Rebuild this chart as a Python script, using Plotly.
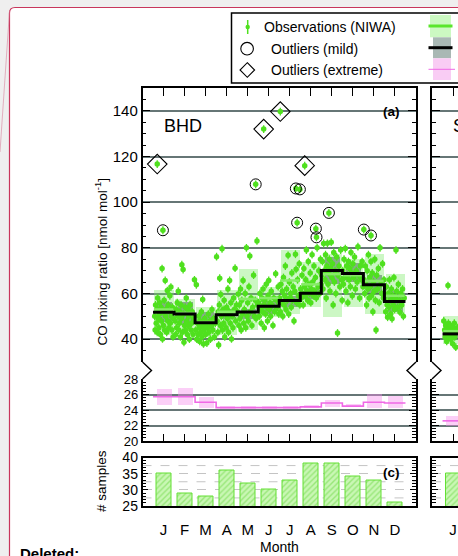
import plotly.graph_objects as go

W, H = 458, 556

months = [1, 2, 3, 4, 5, 6, 7, 8, 9, 10, 11, 12]
month_labels = ["J", "F", "M", "A", "M", "J", "J", "A", "S", "O", "N", "D"]

# ---- panel (a): BHD monthly statistics [nmol/mol] ----
bhd_median = [51.8, 51.0, 47.2, 50.7, 51.9, 54.4, 56.9, 60.1, 70.1, 68.8, 63.8, 56.5]
bhd_mean = [53.0, 51.5, 47.5, 52.0, 57.6, 58.0, 65.7, 64.0, 68.5, 68.0, 65.5, 59.0]
bhd_range_lo = [42.0, 44.2, 41.0, 41.8, 44.0, 49.6, 51.2, 54.0, 49.6, 54.0, 51.0, 51.0]
bhd_range_hi = [61.6, 57.7, 54.3, 61.6, 70.9, 62.9, 78.9, 73.8, 77.4, 75.2, 77.4, 68.7]
bhd_iqr_lo = [47.4, 46.0, 44.5, 48.9, 49.0, 51.0, 54.0, 57.8, 64.3, 65.0, 60.0, 51.8]
bhd_iqr_hi = [56.2, 56.2, 51.8, 53.3, 53.4, 56.6, 59.0, 62.2, 76.0, 73.2, 68.0, 61.3]

# ---- panel (b) ----
pink_median = [25.7, 25.7, 25.0, 24.3, 24.3, 24.3, 24.3, 24.4, 24.9, 24.5, 25.0, 24.9]
pink_lo = [24.6, 24.6, 24.2, 24.15, 24.15, 24.15, 24.15, 24.3, 24.4, 24.35, 24.2, 24.2]
pink_hi = [26.7, 26.8, 25.7, 24.5, 24.5, 24.5, 24.5, 24.6, 25.3, 24.8, 26.1, 25.8]

# ---- panel (c): number of samples ----
bhd_samples = [35, 29, 28, 36, 32, 30, 33, 38, 38, 34, 33, 26]
samples_ticks = [25, 30, 35, 40]
samples_dashed = [27.5, 32.5, 37.5]

# ---- observations (decimal month, value) ----
obs_jan = [(0.58, 50), (0.60, 44), (0.62, 55), (0.65, 47), (0.68, 53), (0.70, 43), (0.72, 58), (0.75, 49),
           (0.78, 45), (0.80, 51), (0.82, 56), (0.85, 42), (0.88, 54), (0.90, 48), (0.93, 70.9), (0.95, 40.1),
           (0.97, 52), (1.00, 46), (1.03, 57), (1.05, 44), (1.08, 65.7), (1.10, 50), (1.12, 53), (1.15, 43),
           (1.18, 61.3), (1.20, 48), (1.22, 55), (1.25, 45), (1.28, 52), (1.30, 59), (1.32, 47), (1.35, 62.8),
           (1.38, 50), (1.40, 44), (1.42, 54), (1.45, 41), (1.47, 49)]
obs_feb = [(1.55, 48), (1.58, 42), (1.60, 53), (1.62, 45), (1.65, 56), (1.68, 50), (1.70, 61), (1.72, 44),
           (1.75, 47), (1.78, 52), (1.80, 41), (1.83, 55), (1.85, 49), (1.87, 72.6), (1.90, 43), (1.93, 70.5),
           (1.95, 51), (1.97, 38.6), (2.00, 46), (2.03, 54), (2.05, 44), (2.08, 58), (2.10, 48), (2.13, 42),
           (2.15, 53), (2.18, 46), (2.20, 50), (2.23, 40), (2.26, 55), (2.30, 44), (2.33, 47), (2.36, 52),
           (2.40, 42), (2.43, 49), (2.47, 66)]
obs_mar = [(2.53, 44), (2.56, 63.8), (2.58, 40), (2.61, 47), (2.64, 42), (2.67, 50), (2.70, 45), (2.72, 39),
           (2.75, 48), (2.78, 43), (2.80, 52), (2.83, 41), (2.86, 57.4), (2.88, 46), (2.90, 37.9), (2.93, 44),
           (2.96, 49), (3.00, 42), (3.03, 47), (3.06, 38.3), (3.10, 45), (3.13, 51), (3.16, 43), (3.20, 48),
           (3.23, 40), (3.27, 46), (3.30, 53), (3.34, 44), (3.38, 49), (3.42, 41), (3.46, 47)]
obs_apr = [(3.52, 76.1), (3.55, 48), (3.58, 43), (3.60, 52), (3.62, 37.4), (3.65, 55), (3.67, 66.7), (3.70, 46),
           (3.72, 59.6), (3.75, 50), (3.78, 79.6), (3.80, 44), (3.83, 53), (3.86, 47), (3.88, 57), (3.91, 41),
           (3.94, 51), (3.97, 45), (4.00, 54), (4.03, 49), (4.06, 62), (4.09, 43), (4.12, 52), (4.14, 65.7),
           (4.17, 47), (4.20, 56), (4.23, 40.1), (4.26, 50), (4.30, 45), (4.33, 58), (4.36, 53), (4.40, 71.1),
           (4.43, 48), (4.47, 55)]
obs_may = [(4.52, 52), (4.55, 59.8), (4.58, 46), (4.60, 55), (4.63, 49), (4.66, 62), (4.69, 44), (4.72, 57),
           (4.75, 51), (4.78, 65.7), (4.81, 47), (4.84, 53), (4.88, 60), (4.91, 45), (4.94, 80), (4.97, 50),
           (5.00, 56), (5.03, 48), (5.06, 63), (5.10, 76.4), (5.13, 52), (5.16, 58), (5.20, 46), (5.24, 54),
           (5.28, 68), (5.32, 50), (5.36, 57), (5.40, 49), (5.44, 83), (5.47, 55)]
obs_jun = [(5.52, 56), (5.55, 50), (5.58, 60), (5.61, 53), (5.64, 47), (5.67, 58), (5.70, 52), (5.73, 62),
           (5.76, 55), (5.79, 45), (5.82, 57), (5.85, 51), (5.88, 64), (5.91, 54), (5.94, 48), (5.97, 59),
           (6.00, 65.7), (6.03, 53), (6.06, 56), (6.09, 50), (6.12, 61), (6.16, 55), (6.20, 46), (6.24, 58),
           (6.28, 52), (6.33, 68.6), (6.37, 57), (6.41, 54), (6.45, 63), (6.48, 51)]
obs_jul = [(6.52, 58), (6.55, 52), (6.58, 64), (6.61, 56), (6.64, 61), (6.67, 50), (6.70, 67), (6.73, 55),
           (6.76, 59), (6.79, 72), (6.82, 53), (6.85, 62), (6.88, 57), (6.92, 76.7), (6.95, 51), (6.98, 65),
           (7.01, 58), (7.04, 60), (7.07, 54), (7.10, 69), (7.13, 57), (7.16, 63), (7.20, 48), (7.24, 61),
           (7.27, 77.2), (7.30, 70.6), (7.33, 56), (7.37, 66), (7.41, 59), (7.45, 73), (7.48, 55)]
obs_aug = [(7.52, 62), (7.55, 58), (7.58, 68), (7.61, 60), (7.64, 55), (7.67, 71), (7.70, 63), (7.73, 59),
           (7.76, 66), (7.79, 79), (7.82, 61), (7.85, 57), (7.88, 74), (7.91, 64), (7.94, 60), (7.97, 69),
           (8.00, 56), (8.03, 62), (8.06, 77), (8.09, 65), (8.12, 59), (8.15, 72), (8.18, 61), (8.22, 67),
           (8.26, 58), (8.30, 80), (8.34, 63), (8.38, 70), (8.42, 60), (8.46, 75), (8.49, 64)]
obs_sep = [(8.52, 68), (8.55, 74), (8.58, 62), (8.61, 81.9), (8.64, 70), (8.67, 66), (8.70, 77), (8.73, 58),
           (8.76, 72), (8.79, 82), (8.82, 64), (8.85, 69), (8.88, 75), (8.91, 61), (8.94, 71), (8.97, 82.5),
           (9.00, 67), (9.03, 73), (9.06, 55), (9.09, 78), (9.12, 65), (9.15, 70), (9.19, 60), (9.23, 76),
           (9.27, 42.7), (9.30, 68), (9.34, 72), (9.38, 63), (9.42, 79), (9.46, 66), (9.49, 57)]
obs_oct = [(9.52, 70), (9.55, 64), (9.58, 75), (9.61, 67), (9.64, 79.7), (9.67, 61), (9.70, 72), (9.73, 68),
           (9.76, 56), (9.79, 74), (9.82, 66), (9.85, 71), (9.88, 63), (9.91, 78), (9.94, 69), (9.97, 59),
           (10.00, 73), (10.04, 67), (10.08, 76), (10.12, 62), (10.16, 70), (10.20, 65), (10.24, 80.5),
           (10.28, 68), (10.32, 58), (10.36, 72), (10.40, 66), (10.44, 74), (10.48, 63)]
obs_nov = [(10.53, 66), (10.56, 60), (10.59, 72), (10.62, 64), (10.65, 55), (10.68, 70), (10.71, 62), (10.74, 77),
           (10.77, 58), (10.80, 67), (10.83, 63), (10.86, 74), (10.89, 59), (10.92, 69), (10.95, 52), (10.98, 65),
           (11.01, 61), (11.04, 75), (11.07, 57), (11.10, 44), (11.13, 68), (11.17, 62), (11.21, 71), (11.25, 56),
           (11.29, 80), (11.33, 64), (11.37, 60), (11.41, 73), (11.45, 58), (11.48, 66)]
obs_dec = [(11.53, 58), (11.56, 52), (11.59, 63), (11.62, 55), (11.65, 49.6), (11.68, 60), (11.71, 54),
           (11.74, 66), (11.77, 57), (11.80, 51), (11.83, 62), (11.86, 48.9), (11.89, 59), (11.92, 55),
           (11.95, 67), (11.98, 53), (12.02, 58), (12.05, 79), (12.08, 61), (12.12, 54), (12.16, 64), (12.20, 57),
           (12.24, 51.8), (12.28, 60), (12.32, 55), (12.36, 62), (12.40, 50), (12.44, 58)]

outliers_mild = [(0.97, 87.7), (5.38, 107.8), (7.29, 106.0), (7.48, 105.6), (7.35, 91.0), (8.24, 88.4),
                 (8.27, 84.6), (8.86, 95.3), (10.52, 88.0), (10.86, 85.4)]
outliers_extreme = [(0.70, 116.7), (5.76, 132.0), (6.55, 139.7), (7.71, 116.0)]

# ---- second station (only January visible at the right edge) ----
st2_months = [1]
st2_median = [42.3]
st2_mean = [43.5]
st2_range_lo = [38.0]
st2_range_hi = [50.3]
st2_iqr_lo = [40.0]
st2_iqr_hi = [45.0]
st2_pink_median = [22.6]
st2_pink_lo = [22.0]
st2_pink_hi = [23.2]
st2_samples = [35]
st2_obs = [(0.56, 48), (0.60, 44), (0.62, 41), (0.65, 46), (0.68, 43), (0.70, 39), (0.72, 45), (0.74, 42),
           (0.76, 63.5), (0.78, 47), (0.80, 44), (0.82, 41), (0.85, 43), (0.88, 46), (0.90, 40), (0.92, 44),
           (0.95, 42), (0.98, 38), (1.00, 45), (1.03, 43), (1.06, 47), (1.08, 41), (1.10, 44), (1.13, 36.5),
           (1.16, 43), (1.20, 45)]

# ---------------------------------------------------------------
FONT = "Liberation Sans, Arial, Helvetica, sans-serif"
GREEN = "#4fe01e"
LIGHTBOX = "rgba(120,235,100,0.38)"
GRAYBOX = "rgba(40,70,60,0.42)"
MEANLINE = "#86ec66"
PINKBOX = "rgba(245,140,235,0.42)"
PINKLINE = "#f068e6"
GRID = "#667676"


def fx(x):
    return x / W


def fy(y):
    return 1 - y / H


def ppath(points, close=False):
    s = "M " + " L ".join(f"{fx(x):.5f},{fy(y):.5f}" for x, y in points)
    return s + (" Z" if close else "")


all_obs = obs_jan + obs_feb + obs_mar + obs_apr + obs_may + obs_jun + obs_jul + obs_aug + obs_sep + obs_oct + obs_nov + obs_dec

fig = go.Figure()


def add_station(xa, ya, yb, yc, xb, xc, mon, med, mean, rlo, rhi, qlo, qhi, pmed, plo, phi, samples, obs,
                mild, extreme):
    fig.add_trace(go.Bar(x=mon, y=[h - l for h, l in zip(rhi, rlo)], base=rlo, width=0.92,
                         marker=dict(color=LIGHTBOX, line=dict(width=0)), xaxis=xa, yaxis=ya, hoverinfo="skip"))
    pts = obs + mild + extreme
    fig.add_trace(go.Scatter(x=[p[0] for p in pts], y=[p[1] for p in pts], mode="markers",
                             marker=dict(color=GREEN, size=5.5, line=dict(width=0)),
                             error_y=dict(type="constant", value=1.7, thickness=1.3, width=0, color=GREEN),
                             xaxis=xa, yaxis=ya))
    fig.add_trace(go.Bar(x=mon, y=[h - l for h, l in zip(qhi, qlo)], base=qlo, width=0.71,
                         marker=dict(color=GRAYBOX, line=dict(width=0)), xaxis=xa, yaxis=ya, hoverinfo="skip"))
    mx, my = [], []
    for m, v in zip(mon, mean):
        mx += [m - 0.46, m + 0.46, None]
        my += [v, v, None]
    fig.add_trace(go.Scatter(x=mx, y=my, mode="lines", line=dict(color=MEANLINE, width=2.5),
                             xaxis=xa, yaxis=ya))
    ex = [m - 0.5 for m in mon] + [mon[-1] + 0.5]
    fig.add_trace(go.Scatter(x=ex, y=med + [med[-1]], mode="lines", line=dict(color="black", width=3, shape="hv"),
                             xaxis=xa, yaxis=ya))
    if mild:
        fig.add_trace(go.Scatter(x=[p[0] for p in mild], y=[p[1] for p in mild], mode="markers",
                                 marker=dict(symbol="circle-open", size=11, color="black", line=dict(width=1)),
                                 xaxis=xa, yaxis=ya))
    if extreme:
        fig.add_trace(go.Scatter(x=[p[0] for p in extreme], y=[p[1] for p in extreme], mode="markers",
                                 marker=dict(symbol="diamond-open", size=15, color="black", line=dict(width=1.1)),
                                 xaxis=xa, yaxis=ya))
    fig.add_trace(go.Bar(x=mon, y=[h - l for h, l in zip(phi, plo)], base=plo, width=0.71,
                         marker=dict(color=PINKBOX, line=dict(width=0)), xaxis=xb, yaxis=yb, hoverinfo="skip"))
    fig.add_trace(go.Scatter(x=ex, y=pmed + [pmed[-1]], mode="lines",
                             line=dict(color=PINKLINE, width=1.6, shape="hv"), xaxis=xb, yaxis=yb))
    fig.add_trace(go.Bar(x=mon, y=samples, width=0.71,
                         marker=dict(color="#c6f5ae", line=dict(color="#62e032", width=1),
                                     pattern=dict(shape="/", fgcolor="#6ad840", bgcolor="#c9f7b4", size=4,
                                                  solidity=0.35)),
                         xaxis=xc, yaxis=yc, hoverinfo="skip"))


add_station("x", "y", "y2", "y3", "x2", "x3", months, bhd_median, bhd_mean, bhd_range_lo, bhd_range_hi,
            bhd_iqr_lo, bhd_iqr_hi, pink_median, pink_lo, pink_hi, bhd_samples, all_obs,
            outliers_mild, outliers_extreme)
add_station("x4", "y4", "y5", "y6", "x5", "x6", st2_months, st2_median, st2_mean, st2_range_lo, st2_range_hi,
            st2_iqr_lo, st2_iqr_hi, st2_pink_median, st2_pink_lo, st2_pink_hi, st2_samples, st2_obs, [], [])

# ---------------- axes ----------------
XA = [fx(142.5), fx(416)]
XB = [fx(432), 1.0]
YA = [fy(362), fy(88)]
YB = [fy(441), fy(379)]
YC = [fy(506), fy(457.5)]
R2 = 26 / 21.04

common_x = dict(showline=True, linecolor="black", linewidth=1.5, showgrid=False, zeroline=False,
                tickvals=months, showticklabels=False, ticks="inside", tickcolor="black", tickwidth=1.3)


def yax(domain, rng, dtick, minor_dtick, anchor, labels=True, mirror="allticks", grid=GRID, dash="solid",
        gridw=1.6, tickvals=None, ticklen=8, fsize=15):
    d = dict(domain=domain, range=rng, anchor=anchor, showline=True, linecolor="black", linewidth=1.5,
             ticks="inside", ticklen=ticklen, tickcolor="black", tickwidth=1.3, mirror=mirror,
             showgrid=True, gridcolor=grid, gridwidth=gridw, griddash=dash, zeroline=False,
             showticklabels=labels, tickfont=dict(family=FONT, size=fsize, color="black"),
             minor=dict(dtick=minor_dtick, tick0=0, ticks="inside", ticklen=4, tickcolor="black",
                        tickwidth=1, showgrid=False))
    if tickvals is not None:
        d["tickvals"] = tickvals
    else:
        d["dtick"] = dtick
        d["tick0"] = 0
    return d


xlab_font = dict(family=FONT, size=15, color="black")

fig.update_layout(
    xaxis=dict(domain=XA, range=[0, 13], anchor="y", side="top", ticklen=8, **common_x),
    yaxis=yax(YA, [30, 150], 20, 5, "x"),
    xaxis2=dict(domain=XA, range=[0, 13], anchor="y2", side="bottom", ticklen=7, **common_x),
    yaxis2=yax(YB, [20, 28], 2, 0.4, "x2", ticklen=7, fsize=13),
    xaxis3=dict(domain=XA, range=[0, 13], anchor="y3", side="bottom", showline=True, linecolor="black",
                linewidth=1.5, mirror=True, showgrid=False, zeroline=False, tickvals=months,
                ticktext=month_labels, ticks="outside", ticklen=9, tickcolor="rgba(0,0,0,0)",
                tickfont=xlab_font),
    yaxis3=yax(YC, [25, 40], 5, 1, "x3", grid="#c4c4c4", dash="dash", gridw=1, tickvals=samples_ticks,
               ticklen=6, fsize=14),
    xaxis4=dict(domain=XB, range=[0, R2], anchor="y4", side="top", ticklen=8, **common_x),
    yaxis4=yax(YA, [30, 150], 20, 5, "x4", labels=False, mirror=False),
    xaxis5=dict(domain=XB, range=[0, R2], anchor="y5", side="bottom", ticklen=7, **common_x),
    yaxis5=yax(YB, [20, 28], 2, 0.4, "x5", labels=False, mirror=False, ticklen=7),
    xaxis6=dict(domain=XB, range=[0, R2], anchor="y6", side="bottom", showline=True, linecolor="black",
                linewidth=1.5, mirror=True, showgrid=False, zeroline=False, tickvals=[1],
                ticktext=["J"], ticks="outside", ticklen=9, tickcolor="rgba(0,0,0,0)", tickfont=xlab_font),
    yaxis6=yax(YC, [25, 40], 5, 1, "x6", labels=False, mirror=False, grid="#c4c4c4", dash="dash", gridw=1,
               tickvals=samples_ticks, ticklen=6),
)

# ---------------- decorations ----------------
shapes = []
shapes.append(dict(type="path", xref="paper", yref="paper", layer="below",
                   path=f"M {fx(9.5):.5f},{fy(620):.5f} L {fx(9.5):.5f},{fy(13):.5f} "
                        f"Q {fx(9.5):.5f},{fy(7.5):.5f} {fx(15):.5f},{fy(7.5):.5f} "
                        f"L {fx(520):.5f},{fy(7.5):.5f} L {fx(520):.5f},{fy(620):.5f} Z",
                   fillcolor="white", line=dict(color="#c8365c", width=1.2)))
shapes.append(dict(type="line", xref="paper", yref="paper", layer="below",
                   x0=fx(9.5), y0=fy(11), x1=fx(0), y1=fy(152),
                   line=dict(color="rgba(215,120,150,0.55)", width=1)))
for xr, yr in (("x3 domain", "y3"), ("x6 domain", "y6")):
    for v in samples_dashed:
        shapes.append(dict(type="line", xref=xr, yref=yr, x0=0, x1=1, y0=v, y1=v, layer="below",
                           line=dict(color="#c4c4c4", width=1, dash="dash")))
for pts in ([(142.5, 362), (151.5, 370.5), (142.5, 379)],
            [(416, 362), (407, 370.5), (416, 379)],
            [(432, 362), (441, 370.5), (432, 379)]):
    shapes.append(dict(type="path", xref="paper", yref="paper", layer="above", path=ppath(pts),
                       line=dict(color="black", width=1.4)))
shapes.append(dict(type="rect", xref="paper", yref="paper", layer="below",
                   x0=fx(231.5), y0=fy(83), x1=fx(520), y1=fy(13), fillcolor="white",
                   line=dict(color="black", width=1.5)))
shapes.append(dict(type="line", xref="paper", yref="paper", x0=fx(247.7), x1=fx(247.7), y0=fy(20), y1=fy(34),
                   line=dict(color=GREEN, width=1.5)))
shapes.append(dict(type="circle", xref="paper", yref="paper", x0=fx(245.5), x1=fx(249.9), y0=fy(29.2),
                   y1=fy(24.8), fillcolor=GREEN, line=dict(width=0)))
shapes.append(dict(type="circle", xref="paper", yref="paper", x0=fx(240.8), x1=fx(253.4), y0=fy(55),
                   y1=fy(42.4), line=dict(color="black", width=1.1)))
shapes.append(dict(type="path", xref="paper", yref="paper",
                   path=ppath([(247.3, 62.7), (254.6, 70), (247.3, 77.3), (240.0, 70)], close=True),
                   line=dict(color="black", width=1.1)))
shapes.append(dict(type="rect", xref="paper", yref="paper", x0=fx(430), x1=fx(451), y0=fy(37.3), y1=fy(15),
                   fillcolor="#ccf9c2", line=dict(width=0)))
shapes.append(dict(type="line", xref="paper", yref="paper", x0=fx(428.5), x1=fx(452.5), y0=fy(26), y1=fy(26),
                   line=dict(color="#5ae62c", width=3)))
shapes.append(dict(type="rect", xref="paper", yref="paper", x0=fx(433), x1=fx(451), y0=fy(58.3), y1=fy(37.3),
                   fillcolor="#a9b8b4", line=dict(width=0)))
shapes.append(dict(type="line", xref="paper", yref="paper", x0=fx(428.5), x1=fx(452.5), y0=fy(47.7),
                   y1=fy(47.7), line=dict(color="black", width=3)))
shapes.append(dict(type="rect", xref="paper", yref="paper", x0=fx(433), x1=fx(451), y0=fy(80), y1=fy(58.3),
                   fillcolor="#f9ccf4", line=dict(width=0)))
shapes.append(dict(type="line", xref="paper", yref="paper", x0=fx(428.5), x1=fx(455), y0=fy(69.3),
                   y1=fy(69.3), line=dict(color=PINKLINE, width=1)))
fig.update_layout(shapes=shapes)

ann = []


def text(x, y, s, size, xanchor="left", angle=0, bold=False):
    ann.append(dict(x=fx(x), y=fy(y), xref="paper", yref="paper", text=(f"<b>{s}</b>" if bold else s),
                    showarrow=False, xanchor=xanchor, yanchor="middle", textangle=angle,
                    font=dict(family=FONT, size=size, color="black")))


text(262, 27, "Observations (NIWA)", 14)
text(268.5, 49, "Outliers (mild)", 14)
text(268.5, 70, "Outliers (extreme)", 14)
text(162, 126, "BHD", 18)
text(451, 126, "SCB", 18)
text(402, 112, "(a)", 13.5, xanchor="right", bold=True)
text(402, 472, "(c)", 13.5, xanchor="right", bold=True)
text(101, 262.5, "CO mixing ratio [nmol mol<sup>-1</sup>]", 13.5, xanchor="center", angle=-90)
text(101, 481, "# samples", 13.5, xanchor="center", angle=-90)
text(279, 547, "Month", 14, xanchor="center")
text(18, 553, "Deleted:", 15, bold=True)
fig.update_layout(annotations=ann)

fig.update_layout(width=W, height=H, margin=dict(l=0, r=0, t=0, b=0, pad=0, autoexpand=False),
                  paper_bgcolor="#efefef", plot_bgcolor="rgba(0,0,0,0)", showlegend=False,
                  barmode="overlay", bargap=0)

fig.write_html("out.html", config={"displayModeBar": False})
